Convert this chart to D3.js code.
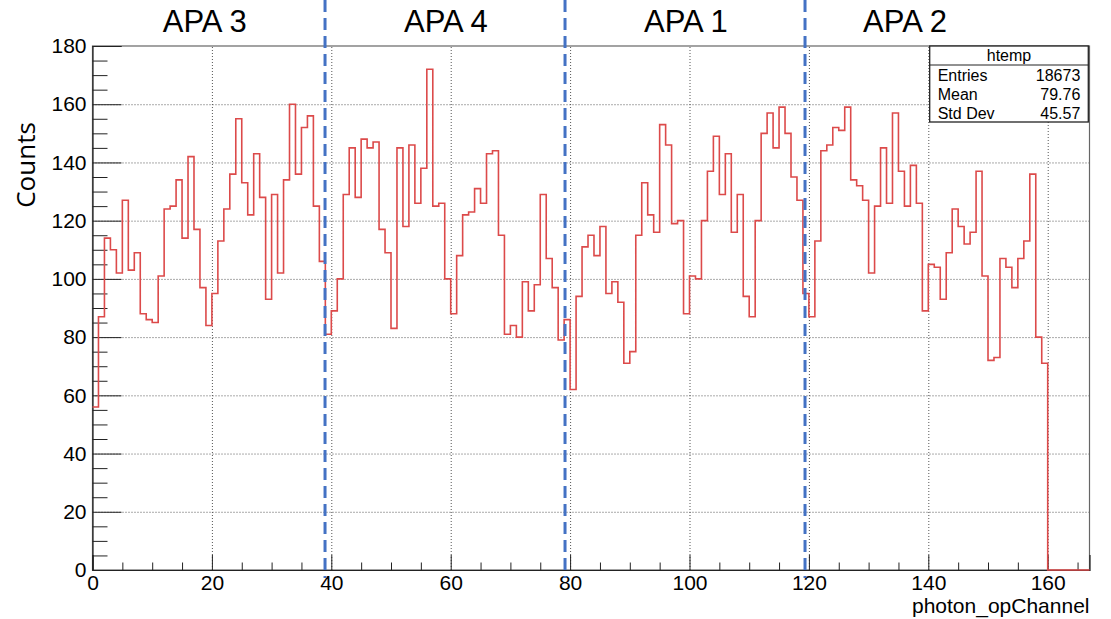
<!DOCTYPE html>
<html>
<head>
<meta charset="utf-8">
<script src="https://cdn.jsdelivr.net/npm/d3@7"></script>
<style>
  body { margin: 0; background: #fff; }
  svg { display: block; }
</style>
</head>
<body>
<script>
// Counts per photon_opChannel bin (bins 0..159)
var counts = [
  56, 87, 114, 110, 102, 127, 103, 109, 88, 86,
  85, 101, 124, 125, 134, 114, 142, 117, 97, 84,
  95, 113, 124, 136, 155, 133, 122, 143, 128, 93,
  129, 102, 134, 160, 136, 152, 156, 125, 106, 81,
  89, 100, 129, 145, 128, 148, 145, 147, 117, 109,
  83, 145, 118, 146, 126, 138, 172, 125, 126, 100,
  88, 108, 122, 123, 131, 126, 143, 144, 115, 81,
  84, 80, 99, 89, 98, 129, 107, 97, 79, 86,
  62, 94, 111, 115, 108, 118, 95, 99, 92, 71,
  75, 115, 133, 122, 116, 153, 146, 119, 120, 88,
  101, 100, 120, 137, 149, 129, 143, 116, 129, 94,
  87, 120, 150, 157, 145, 159, 150, 135, 127, 95,
  87, 113, 144, 146, 152, 151, 159, 134, 132, 127,
  102, 125, 145, 126, 157, 137, 125, 139, 126, 89,
  105, 104, 93, 109, 124, 118, 112, 116, 137, 101,
  72, 73, 107, 104, 97, 107, 113, 136, 80, 71
];
// empty bins up to the end of the axis
var emptyBins = [0, 0, 0, 0, 0, 0, 0];

var xDomain = [0, 167];
var yDomain = [0, 180];
var xMajor = [0, 20, 40, 60, 80, 100, 120, 140, 160];
var xMinor = [5, 10, 15, 25, 30, 35, 45, 50, 55, 65, 70, 75, 85, 90, 95, 105, 110, 115, 125, 130, 135, 145, 150, 155, 165];
var yMajor = [0, 20, 40, 60, 80, 100, 120, 140, 160, 180];
var yMinor = [5, 10, 15, 25, 30, 35, 45, 50, 55, 65, 70, 75, 85, 90, 95, 105, 110, 115, 125, 130, 135, 145, 150, 155, 165, 170, 175];

// APA regions drawn over the plot
var apaBoundaries = [38.95, 79.15, 119.35];
var apaLabels = ["APA 3", "APA 4", "APA 1", "APA 2"];
var apaCenters = [18.8, 59.2, 99.4, 136.1];

// stats box
var statsTitle = "htemp";
var statsNames = ["Entries", "Mean", "Std Dev"];
var statsValues = ["18673", "79.76", "45.57"];

var W = 1111, H = 619;
// frame edges (note: "top" is reserved on window, so use prefixed names)
var frameL = 92.5, frameR = 1089.5, frameT = 46, frameB = 570;

var svg = d3.select("body").append("svg")
    .attr("width", W)
    .attr("height", H);

svg.append("rect").attr("width", W).attr("height", H).attr("fill", "#fff");

var x = d3.scaleLinear().domain(xDomain).range([frameL, frameR]);
var y = d3.scaleLinear().domain(yDomain).range([frameB, frameT]);

var rootFont = "'Liberation Sans', Arial, Helvetica, sans-serif";

// grid (dotted) at the major ticks
svg.append("g")
    .attr("transform", "translate(0," + frameB + ")")
    .call(d3.axisBottom(x).tickValues(xMajor.filter(function (d) { return d > 0; }))
      .tickSize(-(frameB - frameT)).tickFormat(""))
    .call(function (g) {
      g.select(".domain").remove();
      g.selectAll("line").attr("stroke", "#555").attr("stroke-width", 1).attr("stroke-dasharray", "1,2");
    });

svg.append("g")
    .attr("transform", "translate(" + frameL + ",0)")
    .call(d3.axisLeft(y).tickValues(yMajor.filter(function (d) { return d > 0 && d < 180; }))
      .tickSize(-(frameR - frameL)).tickFormat(""))
    .call(function (g) {
      g.select(".domain").remove();
      g.selectAll("line").attr("stroke", "#555").attr("stroke-width", 1).attr("stroke-dasharray", "1,2");
    });

// frame
svg.append("rect")
    .attr("x", frameL).attr("y", frameT)
    .attr("width", frameR - frameL).attr("height", frameB - frameT)
    .attr("fill", "none")
    .attr("stroke", "#666")
    .attr("stroke-width", 1.2);

// x axis: major + minor ticks pointing inward
svg.append("g")
    .attr("class", "axis")
    .attr("transform", "translate(0," + frameB + ")")
    .call(d3.axisBottom(x).tickValues(xMajor).tickSize(-15).tickPadding(5).tickFormat(d3.format("d")));
svg.append("g")
    .attr("class", "axis")
    .attr("transform", "translate(0," + frameB + ")")
    .call(d3.axisBottom(x).tickValues(xMinor).tickSize(-7.5).tickFormat(""))
    .select(".domain").remove();

svg.append("g")
    .attr("class", "axis")
    .attr("transform", "translate(" + frameL + ",0)")
    .call(d3.axisLeft(y).tickValues(yMajor).tickSize(-29).tickPadding(6).tickFormat(d3.format("d")));
svg.append("g")
    .attr("class", "axis")
    .attr("transform", "translate(" + frameL + ",0)")
    .call(d3.axisLeft(y).tickValues(yMinor).tickSize(-15).tickFormat(""))
    .select(".domain").remove();

svg.selectAll(".axis .tick line").attr("stroke", "#222");
svg.selectAll(".axis .domain").attr("stroke", "#222").attr("stroke-width", 1.2);
svg.selectAll(".axis .tick text")
    .attr("font-family", rootFont)
    .attr("font-size", 21)
    .attr("fill", "#000");

// histogram outline, drawn over the axes like ROOT does
var pts = [];
counts.concat(emptyBins).forEach(function (c, i) { pts.push([i, c]); });
pts.push([xDomain[1], 0]);

var line = d3.line()
    .x(function (d) { return x(d[0]); })
    .y(function (d) { return y(d[1]); })
    .curve(d3.curveStepAfter);

svg.append("path")
    .datum(pts)
    .attr("d", line)
    .attr("fill", "none")
    .attr("stroke", "#dc4a4a")
    .attr("stroke-width", 1.6);

// axis titles
svg.append("text")
    .attr("x", frameR)
    .attr("y", 613)
    .attr("text-anchor", "end")
    .attr("font-family", rootFont)
    .attr("font-size", 21)
    .text("photon_opChannel");

svg.append("text")
    .attr("transform", "translate(35,165) rotate(-90)")
    .attr("text-anchor", "middle")
    .attr("font-family", "'Open Sans', 'Noto Sans', sans-serif")
    .attr("font-size", 26)
    .text("Counts");

// APA boundaries (dashed blue) and labels
svg.selectAll(".apa-line")
    .data(apaBoundaries)
    .enter().append("line")
    .attr("class", "apa-line")
    .attr("x1", function (d) { return x(d); })
    .attr("x2", function (d) { return x(d); })
    .attr("y1", 0)
    .attr("y2", 578)
    .attr("stroke", "#4472c4")
    .attr("stroke-width", 3)
    .attr("stroke-dasharray", "12,6");

svg.selectAll(".apa-label")
    .data(apaLabels)
    .enter().append("text")
    .attr("class", "apa-label")
    .attr("x", function (d, i) { return x(apaCenters[i]); })
    .attr("y", 32)
    .attr("text-anchor", "middle")
    .attr("font-family", "'Liberation Sans Narrow', 'Arial Narrow', " + rootFont)
    .attr("font-size", 31)
    .text(function (d) { return d; });

// stats box
var sb = { x: 929.7, y: 46, w: 158.6, h: 76, head: 19 };
var stats = svg.append("g");
stats.append("rect")
    .attr("x", sb.x).attr("y", sb.y).attr("width", sb.w).attr("height", sb.h)
    .attr("fill", "#fff").attr("stroke", "#222").attr("stroke-width", 1.3);
stats.append("line")
    .attr("x1", sb.x).attr("x2", sb.x + sb.w)
    .attr("y1", sb.y + sb.head).attr("y2", sb.y + sb.head)
    .attr("stroke", "#222").attr("stroke-width", 1);
stats.append("text")
    .attr("x", sb.x + sb.w / 2).attr("y", sb.y + 15)
    .attr("text-anchor", "middle")
    .attr("font-family", rootFont).attr("font-size", 16)
    .text(statsTitle);
var rowH = (sb.h - sb.head) / statsNames.length;
statsNames.forEach(function (n, i) {
  var yy = sb.y + sb.head + rowH * i + rowH / 2 + 6;
  stats.append("text")
      .attr("x", sb.x + 8).attr("y", yy)
      .attr("font-family", rootFont).attr("font-size", 16)
      .text(n);
  stats.append("text")
      .attr("x", sb.x + sb.w - 8).attr("y", yy)
      .attr("text-anchor", "end")
      .attr("font-family", rootFont).attr("font-size", 16)
      .text(statsValues[i]);
});
</script>
</body>
</html>
